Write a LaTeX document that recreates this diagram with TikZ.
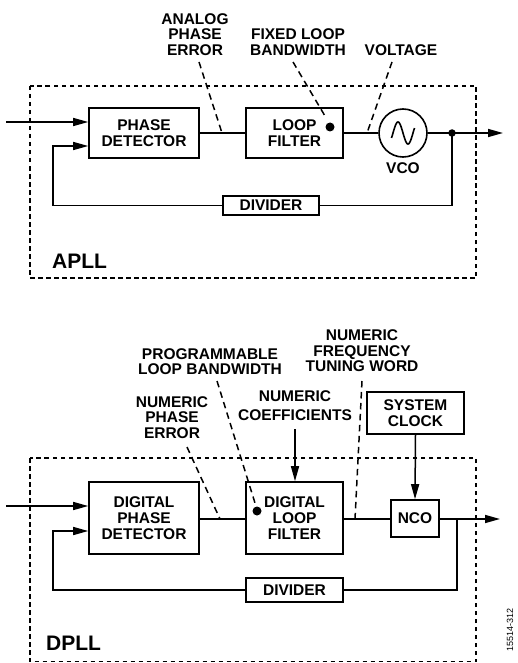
\documentclass[tikz,border=0pt]{standalone}
\usepackage{fontspec}
\setmainfont{Liberation Sans}
\usetikzlibrary{arrows.meta}
\tikzset{
  lbl/.style={font=\fontsize{15.5}{15.5}\selectfont\bfseries, align=center, inner sep=0pt},
  blk/.style={draw, line width=1.6pt, inner sep=0pt, font=\fontsize{15.5}{15.7}\selectfont\bfseries, align=center},
  wire/.style={line width=1.5pt},
  arr/.style={line width=1.5pt, -{Triangle[length=15pt,width=8pt]}},
  lead/.style={line width=1.5pt, dash pattern=on 6.5pt off 4.5pt},
  frame/.style={line width=1.6pt, dash pattern=on 4.5pt off 3.5pt},
  dotc/.style={circle, fill, inner sep=0pt, minimum size=9pt},
  jdot/.style={circle, fill, inner sep=0pt, minimum size=7.5pt},
  big/.style={font=\fontsize{21}{21}\selectfont\bfseries, inner sep=0pt}
}
\begin{document}
\begin{tikzpicture}[x=1pt,y=-1pt]
\useasboundingbox (0,0) rectangle (517,663);
% ================= APLL =================
\draw[frame] (30,86) rectangle (476,278);
\node[big, anchor=west] (apll) at (52,261) {APLL};

\node[blk, minimum width=110pt, minimum height=50pt] (pd) at (144,133) {PHASE\\DETECTOR};
\node[blk, minimum width=97pt, minimum height=50pt] (lf) at (294.5,133) {LOOP\\FILTER};
\node[draw, circle, line width=1.6pt, minimum size=48pt, inner sep=0pt] (vco) at (403,133) {};
\draw[line width=1.6pt] plot[domain=-11.5:11.5, samples=40, smooth] ({403+\x},{133+11*sin(\x*18)});
\node[lbl] (vcol) at (403,168) {VCO};
\node[blk, minimum width=96pt, minimum height=19pt] (div1) at (271,205.5) {DIVIDER};
\node[jdot] (j1) at (452,133) {};
\node[dotc] (d1) at (330,127) {};

\coordinate (in1) at (6,122);
\coordinate (out1) at (503,133);
\coordinate (fb1) at (53,146);

\draw[arr] (in1) -- (in1 -| pd.west);
\draw[wire] (pd.east) -- (lf.west);
\draw[wire] (lf.east) -- (vco.west);
\draw[wire] (vco.east) -- (j1.center);
\draw[arr] (j1.center) -- (out1);
\draw[wire] (j1.center) |- (div1.east);
\draw[arr] (div1.west) -| (fb1) -- (fb1 -| pd.west);

\node[lbl] (l1) at (195,34.5) {ANALOG\\PHASE\\ERROR};
\node[lbl] (l2) at (298,42) {FIXED LOOP\\BANDWIDTH};
\node[lbl] (l3) at (401,50) {VOLTAGE};
\coordinate (l1a) at (199,62); \coordinate (l1b) at (222,133);
\coordinate (l2a) at (293,62); \coordinate (l2b) at (325,116);
\coordinate (l3a) at (392,62); \coordinate (l3b) at (367,133);
\draw[lead] (l1a) -- (l1b);
\draw[lead] (l2a) -- (l2b);
\draw[lead] (l3a) -- (l3b);

% ================= DPLL =================
\draw[frame] (30,458) rectangle (476,661.5);
\node[big, anchor=west] (dpll) at (46,643) {DPLL};

\node[blk, minimum width=110pt, minimum height=72pt] (dpd) at (144,518) {DIGITAL\\PHASE\\DETECTOR};
\node[blk, minimum width=97pt, minimum height=72pt] (dlf) at (294.5,518) {DIGITAL\\LOOP\\FILTER};
\node[blk, minimum width=48pt, minimum height=37pt] (nco) at (415,518.5) {NCO};
\node[blk, minimum width=97pt, minimum height=42pt] (clk) at (415.5,413) {SYSTEM\\CLOCK};
\node[blk, minimum width=97pt, minimum height=24pt] (div2) at (294.5,590) {DIVIDER};
\node[dotc] (d2) at (257,511) {};

\coordinate (in2) at (6,506);
\coordinate (out2) at (500,519);
\coordinate (j2) at (457,519);
\coordinate (fb2) at (53,531);

\draw[arr] (in2) -- (in2 -| dpd.west);
\draw[wire] (dpd.east |- 0,519) -- (dlf.west |- 0,519);
\draw[wire] (dlf.east |- 0,519) -- (nco.west |- 0,519);
\draw[arr] (nco.east |- 0,519) -- (out2);
\draw[wire] (j2) |- (div2.east);
\draw[arr] (div2.west) -| (fb2) -- (fb2 -| dpd.west);
\draw[arr] (clk.south) -- (nco.north);

\node[lbl] (m1) at (362,351) {NUMERIC\\FREQUENCY\\TUNING WORD};
\node[lbl] (m2) at (210,361.5) {PROGRAMMABLE\\LOOP BANDWIDTH};
\node[lbl, font=\fontsize{15.5}{19}\selectfont\bfseries] (m3) at (295,405.5) {NUMERIC\\COEFFICIENTS};
\node[lbl] (m4) at (172,417.5) {NUMERIC\\PHASE\\ERROR};
\coordinate (m3a) at (295,429);
\draw[arr] (m3a) -- (m3a |- dlf.north);

\coordinate (m4a) at (187,447); \coordinate (m4b) at (220,519);
\coordinate (m2a) at (217,381); \coordinate (m2b) at (255,503);
\coordinate (m1a) at (362,381); \coordinate (m1b) at (355,519);
\draw[lead] (m4a) -- (m4b);
\draw[lead] (m2a) -- (m2b);
\draw[lead] (m1a) -- (m1b);

\node[rotate=90, font=\fontsize{9}{9}\selectfont, inner sep=0pt] (fig) at (510,630) {15514-312};
\end{tikzpicture}
\end{document}
